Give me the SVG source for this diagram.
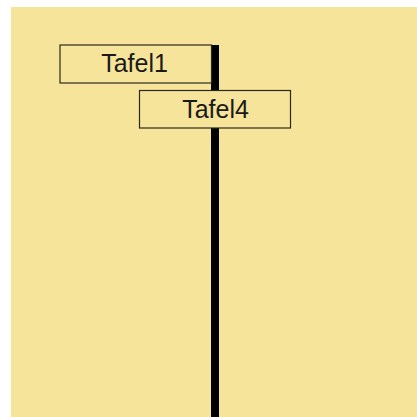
<svg xmlns="http://www.w3.org/2000/svg" width="417" height="417" viewBox="0 0 417 417">
<style>
.box{fill:#f7e49b;stroke:#2a2a1a;stroke-width:1.2}
.lbl{font-family:"Liberation Sans",Arial,sans-serif;font-size:25px;fill:#1a1a1a;text-anchor:middle}
</style>
<rect x="0" y="0" width="417" height="417" fill="#ffffff"/>
<rect x="11" y="7" width="406" height="410" fill="#f7e49b"/>
<g id="connectors">
<rect x="211" y="45" width="8" height="372" fill="#000000"/>
</g>
<g id="Tafel1">
<rect class="box" x="60" y="45" width="151.5" height="38"/>
<text class="lbl" x="134.5" y="72">Tafel1</text>
</g>
<g id="Tafel4">
<rect class="box" x="139.5" y="90.5" width="151" height="37.5"/>
<text class="lbl" x="215.5" y="117.5">Tafel4</text>
</g>
</svg>
